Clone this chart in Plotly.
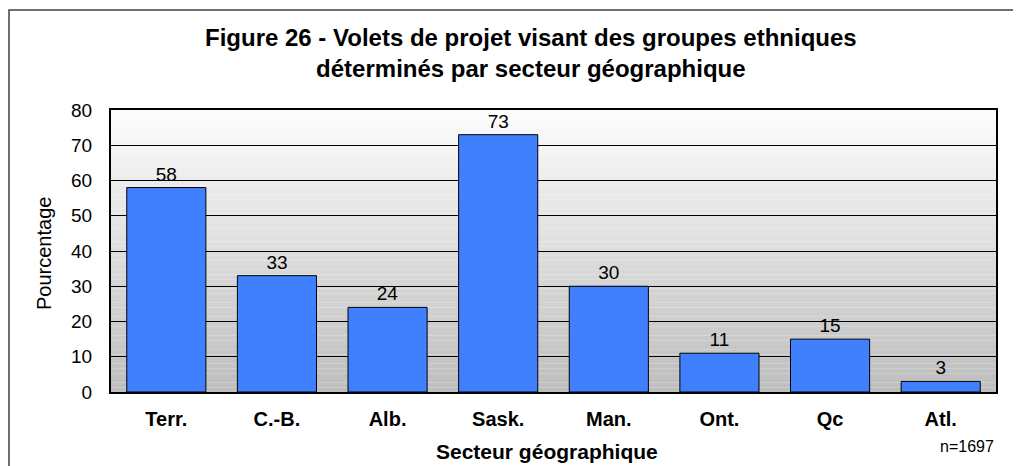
import plotly.graph_objects as go

categories = ["Terr.", "C.-B.", "Alb.", "Sask.", "Man.", "Ont.", "Qc", "Atl."]
values = [58, 33, 24, 73, 30, 11, 15, 3]
y_ticks = [0, 10, 20, 30, 40, 50, 60, 70, 80]

title_text = "Figure 26 - Volets de projet visant des groupes ethniques<br>déterminés par secteur géographique"
x_title = "Secteur géographique"
y_title = "Pourcentage"
note = "n=1697"

FONT = "Liberation Sans, Arial, sans-serif"
W, H = 1013, 458
L, R, T, B = 103, 25, 102, 74
PW, PH = W - L - R, H - T - B


def px(fx):
    return (fx - L) / PW


def py(fy):
    return (H - B - fy) / PH


fig = go.Figure()
fig.add_trace(go.Bar(
    x=categories, y=values,
    marker=dict(color="#4080FF", line=dict(color="#000000", width=1)),
    text=[str(v) for v in values], textposition="outside",
    textfont=dict(family=FONT, size=19, color="#000000"),
    cliponaxis=False,
))

shapes = []
n = 60
for i in range(n):
    t = i / (n - 1)
    g = int(round(252 - (252 - 190) * t))
    col = f"rgb({g},{g},{g})"
    shapes.append(dict(type="rect", xref="x domain", yref="y domain",
                       x0=0, x1=1, y0=1 - (i + 1) / n, y1=1 - i / n,
                       fillcolor=col, line=dict(width=0), layer="below"))
shapes.append(dict(type="rect", xref="paper", yref="paper",
                   x0=px(1), x1=px(W + 40), y0=py(H + 40), y1=py(2),
                   line=dict(color="#404040", width=1.5), fillcolor="rgba(0,0,0,0)", layer="below"))

fig.update_layout(
    width=W, height=H,
    margin=dict(l=L, r=R, t=T, b=B),
    paper_bgcolor="#FFFFFF", plot_bgcolor="rgba(0,0,0,0)",
    showlegend=False, bargap=0.285,
    shapes=shapes,
    annotations=[
        dict(text=title_text, xref="paper", yref="paper", x=px(523), y=py(45),
             xanchor="center", yanchor="middle", showarrow=False,
             font=dict(family=FONT, size=24, color="#000000", weight="bold")),
        dict(text=note, xref="paper", yref="paper", x=px(988), y=py(438),
             xanchor="right", yanchor="middle", showarrow=False,
             font=dict(family=FONT, size=16, color="#000000")),
        dict(text=x_title, xref="paper", yref="paper", x=px(538.5), y=py(443),
             xanchor="center", yanchor="middle", showarrow=False,
             font=dict(family=FONT, size=21, color="#000000", weight="bold")),
        dict(text=y_title, xref="paper", yref="paper", x=px(36), y=py(246),
             xanchor="center", yanchor="middle", showarrow=False, textangle=-90,
             font=dict(family=FONT, size=20, color="#000000")),
    ],
)
fig.update_xaxes(
    showline=True, linecolor="#000000", linewidth=2, mirror=True,
    ticks="", ticklabelstandoff=8,
    tickfont=dict(family=FONT, size=20, color="#000000", weight="bold"),
    showgrid=False,
)
fig.update_yaxes(
    range=[0, 80], tickvals=y_ticks,
    showline=True, linecolor="#000000", linewidth=2, mirror=True,
    showgrid=True, gridcolor="#000000", gridwidth=1,
    ticks="", zeroline=False, ticklabelstandoff=13,
    tickfont=dict(family=FONT, size=19, color="#000000"),
)
fig.write_html("out.html")
